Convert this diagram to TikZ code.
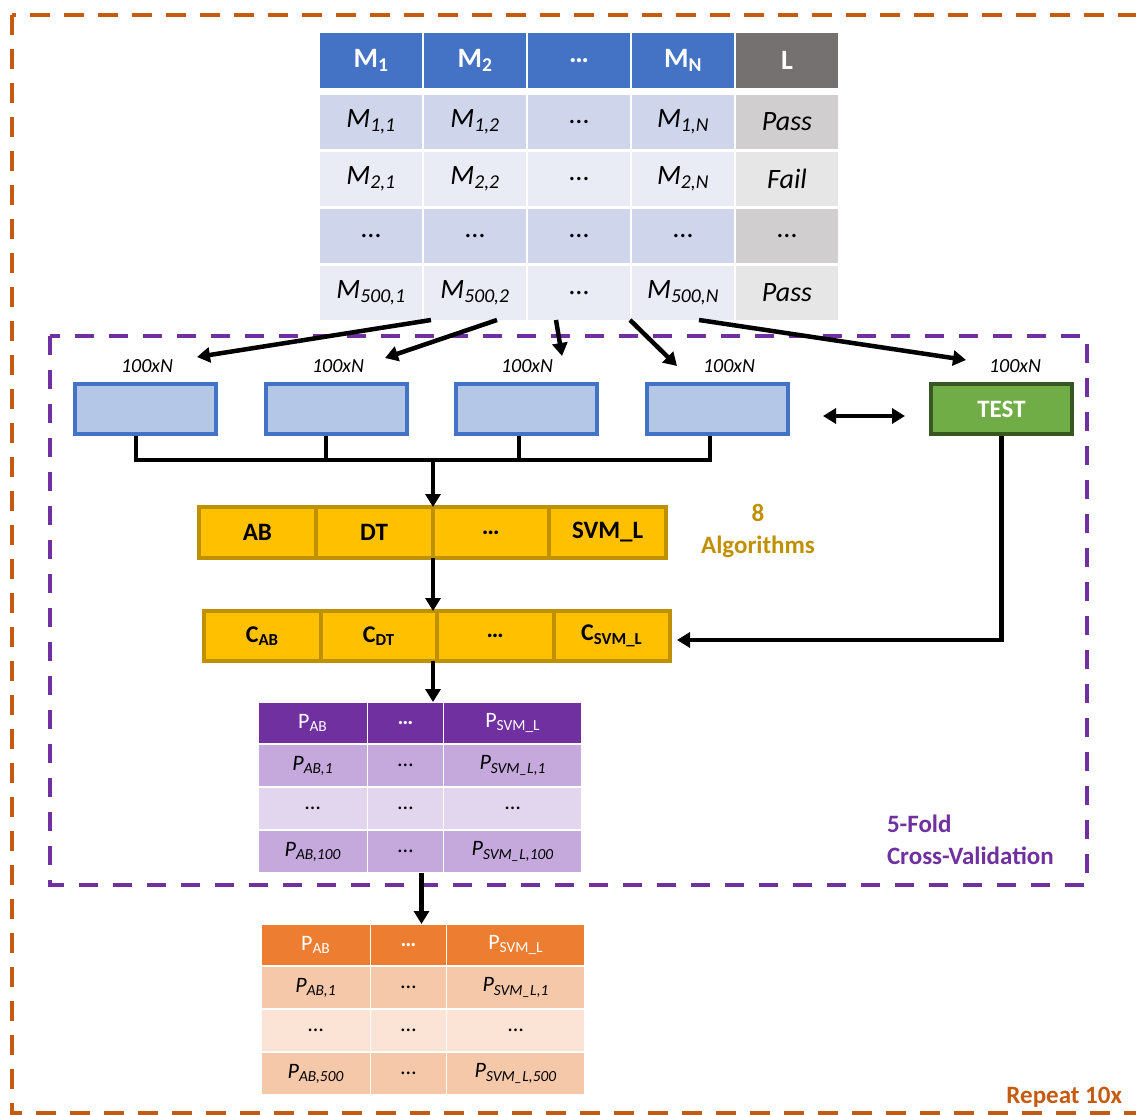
\documentclass[tikz,border=0pt]{standalone}
\usepackage{fontspec}
\setmainfont{Carlito}
\usetikzlibrary{arrows.meta,positioning}

\definecolor{hblue}{HTML}{4472C4}
\definecolor{hgray}{HTML}{767171}
\definecolor{rblueA}{HTML}{CFD5EA}
\definecolor{rblueB}{HTML}{E9EBF5}
\definecolor{rgrayA}{HTML}{D0CECE}
\definecolor{rgrayB}{HTML}{E7E6E6}
\definecolor{foldblue}{HTML}{B4C7E7}
\definecolor{testgreen}{HTML}{70AD47}
\definecolor{testdark}{HTML}{385723}
\definecolor{algfill}{HTML}{FFC000}
\definecolor{algline}{HTML}{BF9000}
\definecolor{cvpurple}{HTML}{7030A0}
\definecolor{ppA}{HTML}{C5A8DC}
\definecolor{ppB}{HTML}{E2D5EE}
\definecolor{porange}{HTML}{ED7D31}
\definecolor{poA}{HTML}{F6C8AA}
\definecolor{poB}{HTML}{FBE3D6}
\definecolor{repeatorange}{HTML}{C55A11}

\newcommand{\rowdots}{\textup{…}}

\begin{document}
\begin{tikzpicture}[x=1pt,y=-1pt,>={Triangle[length=13pt,width=15pt]},
  txt/.style={inner sep=0pt,outer sep=0pt},
  cell/.style={txt,minimum width=102pt,minimum height=54pt,font=\fontsize{28}{34}\selectfont\itshape},
  hcell/.style={cell,minimum height=55pt,text=white,font=\fontsize{28}{34}\selectfont\bfseries},
  fold/.style={draw=hblue,fill=foldblue,line width=4pt,minimum width=141pt,minimum height=50pt},
  testbox/.style={fold,draw=testdark,fill=testgreen,text=white,font=\fontsize{25}{30}\selectfont\bfseries},
  dimlbl/.style={txt,anchor=base,font=\fontsize{20}{24}\selectfont\itshape},
  alg/.style={txt,draw=algline,fill=algfill,line width=4pt,minimum width=116.75pt,minimum height=51pt,font=\fontsize{25}{30}\selectfont\bfseries},
  clf/.style={alg,minimum width=116.5pt,minimum height=50pt,font=\fontsize{24}{30}\selectfont\bfseries},
  phead/.style={txt,draw=white,line width=1.5pt,minimum height=42pt,text=white,font=\fontsize{22}{26}\selectfont},
  pbody/.style={phead,minimum height=43pt,text=black,font=\fontsize{22}{26}\selectfont\itshape},
  link/.style={line width=4.5pt},
  note/.style={txt,font=\fontsize{25}{32}\selectfont\bfseries}]

\useasboundingbox (0,0) rectangle (1136,1115);

% dashed frames
\draw[repeatorange,line width=4.5pt,dash pattern=on 20pt off 14pt] (12,15) rectangle (1160,1113);
\draw[cvpurple,line width=4.5pt,dash pattern=on 19pt off 15pt] (50,336) rectangle (1087,885);

% data table
\foreach \t [count=\j] in {M\textsubscript{1},M\textsubscript{2},…,M\textsubscript{N}}
  \node[hcell,fill=hblue] (m0\j) at ({371+104*(\j-1)},60.5) {\t};
\node[hcell,fill=hgray] (m05) at (787,60.5) {L};
\foreach \row [count=\i] in {{M\textsubscript{1,1},M\textsubscript{1,2},\rowdots,M\textsubscript{1,N},Pass},
    {M\textsubscript{2,1},M\textsubscript{2,2},\rowdots,M\textsubscript{2,N},Fail},
    {\rowdots,\rowdots,\rowdots,\rowdots,\rowdots},
    {M\textsubscript{500,1},M\textsubscript{500,2},\rowdots,M\textsubscript{500,N},Pass}}{
  \ifodd\i \def\band{A}\else \def\band{B}\fi
  \foreach \t [count=\j] in \row {
    \ifnum\j=5 \def\cellcol{rgray\band}\else \def\cellcol{rblue\band}\fi
    \node[cell,fill=\cellcol] (m\i\j) at ({371+104*(\j-1)},{122+57*(\i-1)}) {\t};
  }
}

% folds
\foreach \x [count=\i] in {145.5,336,526.5,717.5}
  \node[fold] (f\i) at (\x,409) {};
\node[testbox] (test) at (1001.5,409) {TEST};
\foreach \x [count=\i] in {147,338,527,729,1015}
  \node[dimlbl] (s\i) at (\x,373) {100xN};

% split arrows
\foreach \sx/\ex/\ey [count=\i] in {431/197/357,497/385/358,556/562/356,630/677/366,699/966/360}{
  \coordinate (from\i) at (\sx,320);
  \coordinate (to\i) at (\ex,\ey);
  \draw[link,->] (from\i) -- (to\i);
}

% algorithms and classifiers
\node[alg] (a1) at (257.375,532.5) {AB};
\node[alg,right=0pt of a1] (a2) {DT};
\node[alg,right=0pt of a2] (a3) {…};
\node[alg,right=0pt of a3] (a4) {SVM\_L};
\node[clf] (c1) at (262.25,636) {C\textsubscript{AB}};
\node[clf,right=0pt of c1] (c2) {C\textsubscript{DT}};
\node[clf,right=0pt of c2] (c3) {…};
\node[clf,right=0pt of c3] (c4) {C\textsubscript{SVM\_L}};
\node[note,align=center,text=algline] (algnote) at (758,531) {8\\Algorithms};

% prediction tables
\foreach \tb/\dx/\dy/\hc/\ca/\cb/\last in {p/0/0/cvpurple/ppA/ppB/100,o/3/222/porange/poA/poB/500}{
  \begin{scope}[shift={(\dx,\dy)}]
    \foreach \x/\w/\t [count=\j] in {312.75/109.5/P\textsubscript{AB},405.5/76/\textbf{…},512.75/138.5/P\textsubscript{SVM\_L}}
      \node[phead,minimum width=\w pt,fill=\hc] (\tb0\j) at (\x,723) {\t};
    \foreach \x/\w/\t [count=\j] in {312.75/109.5/P\textsubscript{AB,1},405.5/76/\rowdots,512.75/138.5/P\textsubscript{SVM\_L,1}}
      \node[pbody,minimum width=\w pt,fill=\ca] (\tb1\j) at (\x,765.5) {\t};
    \foreach \x/\w [count=\j] in {312.75/109.5,405.5/76,512.75/138.5}
      \node[pbody,minimum width=\w pt,fill=\cb] (\tb2\j) at (\x,808.5) {\rowdots};
    \foreach \x/\w/\t [count=\j] in {312.75/109.5/P\textsubscript{AB,\last},405.5/76/\rowdots,512.75/138.5/P\textsubscript{SVM\_L,\last}}
      \node[pbody,minimum width=\w pt,fill=\ca] (\tb3\j) at (\x,851.5) {\t};
  \end{scope}
}

% connectors
\coordinate (bus) at (433,460);
\draw[link] ([xshift=-9.5pt]f1.south) |- (bus) -| ([xshift=-7.5pt]f4.south);
\draw[link] ([xshift=-10pt]f2.south) -- ([xshift=-10pt]f2.south |- bus);
\draw[link] ([xshift=-7.5pt]f3.south) -- ([xshift=-7.5pt]f3.south |- bus);
\draw[link,->] (bus) -- (bus |- a2.north);
\draw[link,->] (bus |- a2.south) -- (bus |- c2.north);
\draw[link,->] (bus |- c2.south) -- (bus |- p02.north);
\draw[link,->] ([xshift=16pt]p32.south) -- ([xshift=16pt]p32.south |- o02.north);
\draw[link,<->,shorten <=33pt,shorten >=24pt] ([yshift=-7pt]f4.east) -- ([yshift=-7pt]test.west);
\draw[link,->,shorten >=7pt] (test.south) |- ([yshift=-4pt]c4.east);

% notes
\node[note,align=left,anchor=west,text=cvpurple] (cvnote) at (887,839.5) {5-Fold\\Cross-Validation};
\node[note,anchor=base east,text=repeatorange] (repnote) at (1122,1103) {Repeat 10x};
\end{tikzpicture}
\end{document}
